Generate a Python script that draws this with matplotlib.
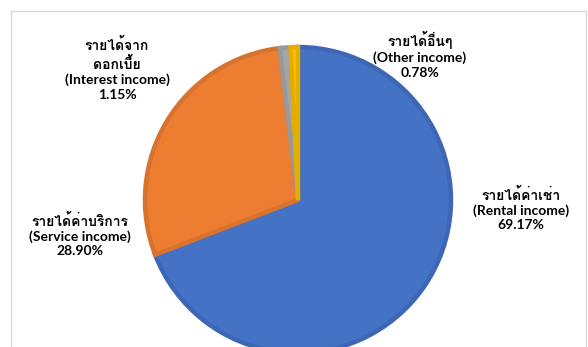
import matplotlib
matplotlib.use("Agg")
import matplotlib.pyplot as plt
from matplotlib import font_manager
from matplotlib.ft2font import FT2Font
from matplotlib.patches import Rectangle

# income breakdown (%)
names_th = ["รายได้ค่าเช่า", "รายได้ค่าบริการ", "รายได้จาก\nดอกเบี้ย", "รายได้อื่นๆ"]
names_en = ["(Rental income)", "(Service income)", "(Interest income)", "(Other income)"]
shares = [69.17, 28.90, 1.15, 0.78]

fills = ["#4472C4", "#ED7D31", "#A5A5A5", "#FFC000"]
edges = ["#3D67B6", "#D8732F", "#999999", "#E5AD00"]


def thai_font():
    # first installed font that has Thai glyphs
    for f in font_manager.fontManager.ttflist:
        try:
            if ord("ร") in FT2Font(f.fname).get_charmap():
                return f.name
        except Exception:
            pass
    return "DejaVu Sans"


# latin text in Lato, thai glyphs fall back to the thai font
fam = ["Lato", thai_font(), "DejaVu Sans"]
plt.rcParams["font.family"] = fam

W, H = 588, 347
fig = plt.figure(figsize=(W / 100, H / 100), dpi=100)
ax = fig.add_axes([0, 0, 1, 1])

wedges, _ = ax.pie(shares, colors=fills, startangle=90, counterclock=False,
                   center=(298, H - 200), radius=153, explode=[0, 0.02, 0, 0],
                   wedgeprops=dict(linewidth=3.2, joinstyle="miter"))
for w, ec in zip(wedges, edges):
    w.set_edgecolor(ec)

ax.set_xlim(0, W)
ax.set_ylim(0, H)
ax.set_aspect("equal")
ax.axis("off")

# chart frame
fig.patches.append(Rectangle((11 / W, -0.1), 575 / W, 1.1 - 11 / H,
                             transform=fig.transFigure, fill=False,
                             edgecolor="#D9D9D9", linewidth=1))

label_pos = [(521, 209), (80, 235), (117, 69), (420, 55)]
for th, en, v, (x, y) in zip(names_th, names_en, shares, label_pos):
    ax.text(x, H - y, f"{th}\n{en}\n{v:.2f}%", ha="center", va="center",
            fontsize=10, fontweight="bold", linespacing=1.25, color="#000000")

fig.savefig("out.png", dpi=100)
